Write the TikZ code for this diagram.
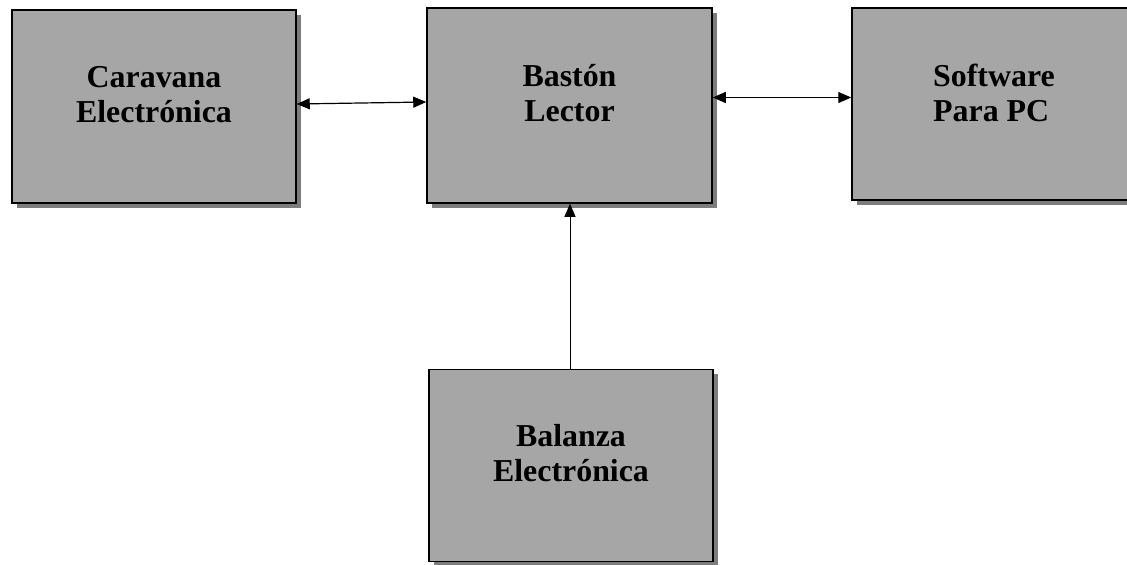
\documentclass[tikz,border=0pt]{standalone}
\usepackage{fontspec}
\setmainfont{Liberation Serif}
\usetikzlibrary{arrows.meta,shadows}
\definecolor{boxfill}{RGB}{166,166,166}
\definecolor{boxshade}{RGB}{125,125,125}
\begin{document}
\begin{tikzpicture}[x=1bp,y=-1bp,
  block/.style={draw=black, line width=1.5bp, fill=boxfill,
    minimum width=284bp, minimum height=193bp, inner sep=0pt,
    drop shadow={shadow xshift=5bp, shadow yshift=-5bp, fill=boxshade, opacity=1}},
  caption/.style={font=\fontsize{32}{35}\selectfont\bfseries, align=center, yshift=12bp},
  tip/.style={Triangle[length=13bp,width=11bp]},
  link/.style={line width=1.2bp, {Triangle[length=13bp,width=11bp]}-{Triangle[length=13bp,width=11bp]}},
  feed/.style={line width=1bp, -{Triangle[length=13bp,width=11bp]}}]
  \useasboundingbox (0,0) rectangle (1127,565);
  \clip (0,0) rectangle (1127,565);
  \fill[white] (0,0) rectangle (1127,565);

  % blocks (the PC block runs past the right edge)
  \node[block] (car) at (154,106.5) {};
  \node[block, minimum width=285bp, minimum height=195bp] (bas) at (569.5,105.5) {};
  \node[block, minimum width=320bp, minimum height=192bp] (sof) at (1012,104) {};
  \node[block, minimum height=192bp] (bal) at (571,465.5) {};

  % captions
  \node[caption] (tcar) at (car.center) {Caravana\\Electrónica};
  \node[caption] (tbas) at (bas.center) {Bastón\\Lector};
  \node[caption, align=left, yshift=-1bp] (tsof) at (994,104) {Software\\Para PC};
  \node[caption] (tbal) at (bal.center) {Balanza\\Electrónica};

  % connectors
  \draw[link] ([yshift=2.5bp]car.east) -- ([yshift=3.5bp]bas.west);
  \draw[link] ([yshift=8bp]bas.east) -- ([yshift=8bp]bas.east -| sof.west);
  \draw[feed] ([xshift=-1bp]bal.north) -- ([xshift=-1bp]bal.north |- bas.south);
\end{tikzpicture}
\end{document}
